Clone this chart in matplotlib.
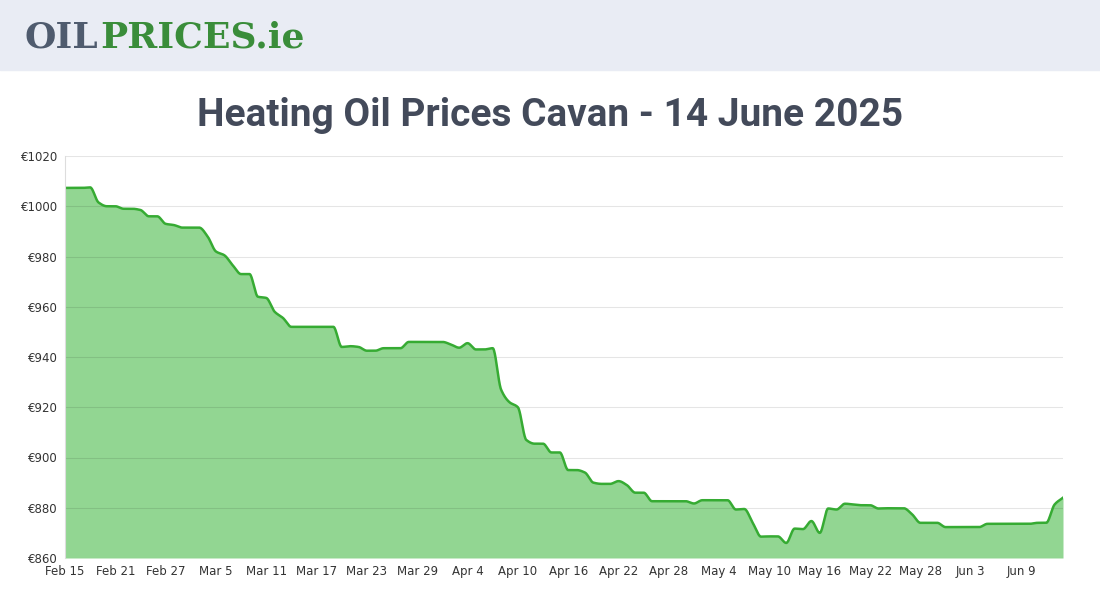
import numpy as np
import matplotlib.pyplot as plt
import datetime as dt

start = dt.date(2025, 2, 15)
prices = [
    1007.3, 1007.3, 1007.3, 1007.5, 1001.5, 1000, 1000, 999, 999, 998.5,
    996, 996, 993, 992.5, 991.5, 991.5, 991.5, 988, 982, 980.5,
    976.5, 973, 973, 964, 963.5, 958, 955.5, 952, 952, 952,
    952, 952, 952, 944, 944.3, 944, 942.5, 942.5, 943.5, 943.5,
    943.5, 946, 946, 946, 946, 946, 945, 943.7, 945.5, 943,
    943, 943.5, 927, 922, 920, 907, 905.5, 905.5, 902, 902,
    895, 895, 894, 890, 889.5, 889.5, 890.6, 889, 886, 886,
    882.6, 882.6, 882.6, 882.6, 882.6, 881.7, 883, 883, 883, 883,
    879.3, 879.5, 874, 868.5, 868.6, 868.6, 866, 871.7, 871.5, 874.7,
    870, 879.7, 879.3, 881.6, 881.3, 881, 881, 879.7, 879.8, 879.8,
    879.8, 877.4, 874, 874, 874, 872.3, 872.3, 872.3, 872.3, 872.3,
    873.6, 873.6, 873.6, 873.6, 873.6, 873.6, 874, 874, 881.3, 884,
]
days = np.arange(len(prices))
tick_days = list(range(0, len(prices), 6))
tick_labels = [(start + dt.timedelta(days=int(d))).strftime("%b ") +
               str((start + dt.timedelta(days=int(d))).day) for d in tick_days]
y_ticks = list(range(860, 1021, 20))


def monotone(x, y, n=20):
    # monotone cubic interpolation, only for drawing a smooth curve
    x = np.asarray(x, float); y = np.asarray(y, float)
    h = np.diff(x); d = np.diff(y) / h
    m = np.zeros_like(y)
    m[0], m[-1] = d[0], d[-1]
    for i in range(1, len(y) - 1):
        if d[i - 1] * d[i] > 0:
            m[i] = 2 / (1 / d[i - 1] + 1 / d[i])
    xs, ys = [], []
    for i in range(len(h)):
        t = np.linspace(0, 1, n, endpoint=False)
        h00 = 2*t**3 - 3*t**2 + 1; h10 = t**3 - 2*t**2 + t
        h01 = -2*t**3 + 3*t**2; h11 = t**3 - t**2
        xs.append(x[i] + t*h[i])
        ys.append(h00*y[i] + h10*h[i]*m[i] + h01*y[i+1] + h11*h[i]*m[i+1])
    xs.append([x[-1]]); ys.append([y[-1]])
    return np.concatenate(xs), np.concatenate(ys)


fig = plt.figure(figsize=(11, 6), dpi=100)
fig.patches.append(plt.Rectangle((0, 1 - 70/600), 1, 70/600, transform=fig.transFigure,
                                 color="#e9ecf4", zorder=0))
fig.text(0.022, 0.937, "OIL", fontsize=26, fontweight="bold", color="#4f5b6e",
         family="DejaVu Serif", va="center")
fig.text(0.091, 0.937, "PRICES.ie", fontsize=26, fontweight="bold", color="#3a8d3a",
         family="DejaVu Serif", va="center")
fig.text(0.5, 0.808, "Heating Oil Prices Cavan - 14 June 2025", ha="center", va="center",
         fontsize=28, fontweight="bold", color="#434a5a", family="Roboto")

ax = fig.add_axes([65/1100, 42/600, 998/1100, 402/600])
xs, ys = monotone(days, prices)
ax.fill_between(xs, 860, ys, color="#92d692", lw=0)
ax.plot(xs, ys, color="#36ab33", lw=1.8)
ax.set_xlim(0, len(prices) - 1)
ax.set_ylim(860, 1020)
ax.set_yticks(y_ticks)
ax.set_yticklabels(["€%d" % v for v in y_ticks])
ax.set_xticks(tick_days)
ax.set_xticklabels(tick_labels)
ax.tick_params(labelsize=8.5, colors="#333333", length=0, pad=5)
ax.grid(axis="y", color="#000000", alpha=0.1, lw=0.8)
for s in ["top", "right", "bottom"]:
    ax.spines[s].set_visible(False)
ax.spines["left"].set_color("#dddddd")
fig.savefig("out.png")
